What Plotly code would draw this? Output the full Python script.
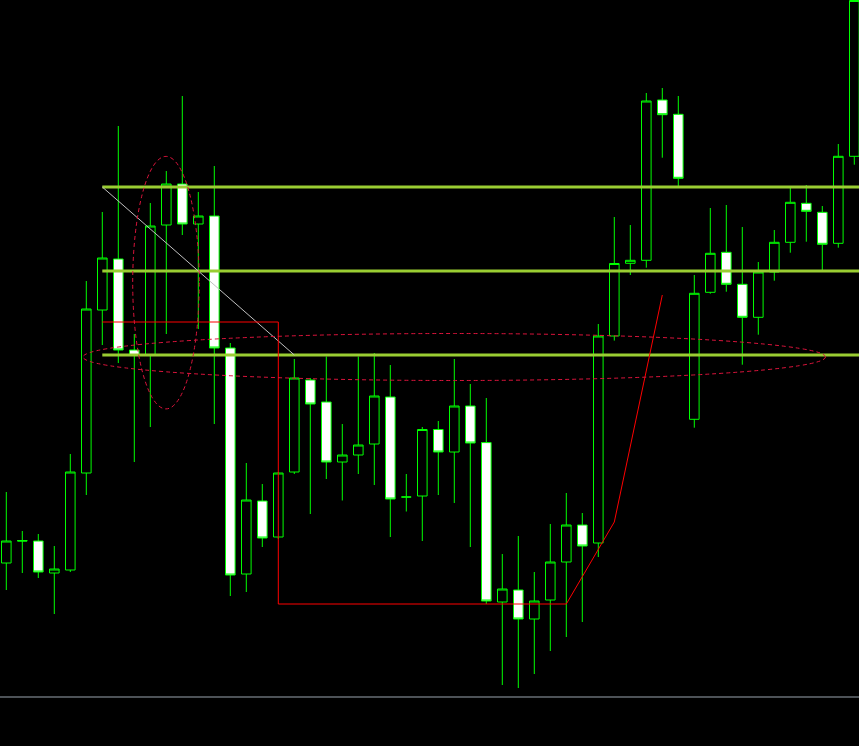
import plotly.graph_objects as go

# ---- data (price units, higher = up) ----
bars = list(range(54))
opens = [183, 205.5, 205, 173, 176, 273, 436, 487, 396, 390.5,
         521, 562, 522, 530, 398, 172, 245, 209, 274, 366,
         344, 284, 291, 302, 349, 249, 250, 316.5, 294, 340,
         303.4, 144, 156, 127, 146, 184, 221, 203, 410, 482.7,
         485.7, 646, 631.7, 326.7, 453.7, 493.7, 461.7, 428.7, 474, 503.7,
         542.7, 533.7, 502.7, 589.7]
highs = [254, 215, 212, 200, 292, 465, 534, 620, 412, 543,
         575, 650, 554, 580, 403, 283, 262, 274, 387, 368,
         389.5, 322, 389.5, 393, 381, 272, 319, 325, 387, 362,
         348, 192, 210, 174, 222, 253, 233, 422, 529, 521,
         653, 658, 650, 471, 538, 541, 519, 484, 516, 559,
         561, 540, 602, 745.5]
lows = [156, 173, 168, 132, 174, 251, 401, 383, 284, 319,
        412, 511, 417, 322, 150, 154, 199, 207, 272, 232,
        267, 245.5, 272, 261, 209, 234.5, 205, 251, 243, 199,
        142, 61, 58, 72, 95, 109, 124, 189, 405.4, 471,
        478.3, 588.3, 560, 318.3, 452.3, 454.3, 381.3, 411.3, 465.3, 493.3,
        504.3, 474, 498.3, 581.3]
closes = [205, 205, 174, 177, 274, 437, 488, 396, 390.5, 520,
          562, 522, 530, 398, 171, 246, 208, 273, 368, 342,
          284, 291, 301, 350, 247, 249, 316.5, 294, 340, 303,
          145, 157, 127, 145, 184, 221, 200, 410, 482.5, 485.7,
          645, 631.3, 567.7, 452.7, 492.7, 461.7, 428.7, 474, 503.7, 543.7,
          534.7, 501.7, 589.7, 745.5]

# support / resistance levels and their start bar
levels = [559, 475, 391]
level_start_bar = 6

# diagonal trend line (bar, price)
trend_bars = [6, 18]
trend_prices = [559, 391]

# red zigzag path (bar, price)
zigzag_bars = [6, 17, 17, 35, 38, 41]
zigzag_prices = [424, 424, 142, 142, 224, 451]

# dashed ellipses: (bar0, bar1, price0, price1)
ellipse_v = [7.9, 12.06, 337.1, 589.6]
ellipse_h = [4.8, 51.2, 365.5, 412.5]

# bottom separator level
separator_price = 49

fig = go.Figure()
fig.add_trace(go.Candlestick(
    x=bars, open=opens, high=highs, low=lows, close=closes,
    increasing=dict(line=dict(color="#00ff00", width=1), fillcolor="#000000"),
    decreasing=dict(line=dict(color="#00ff00", width=1), fillcolor="#ffffff"),
    whiskerwidth=0, showlegend=False, hoverinfo="skip",
))

shapes = []
x_end = 54
for lv in levels:
    shapes.append(dict(type="line", xref="x", yref="y", x0=level_start_bar, x1=x_end,
                       y0=lv, y1=lv, line=dict(color="#9acd32", width=3), layer="above"))
shapes.append(dict(type="line", xref="x", yref="y", x0=trend_bars[0], x1=trend_bars[1],
                   y0=trend_prices[0], y1=trend_prices[1],
                   line=dict(color="#c0c0c0", width=1), layer="above"))
path = "M " + " L ".join(f"{b},{p}" for b, p in zip(zigzag_bars, zigzag_prices))
shapes.append(dict(type="path", xref="x", yref="y", path=path,
                   line=dict(color="#ff0000", width=1), layer="above"))
for e in (ellipse_v, ellipse_h):
    shapes.append(dict(type="circle", xref="x", yref="y", x0=e[0], x1=e[1], y0=e[2], y1=e[3],
                       line=dict(color="#dc143c", width=1, dash="4px,3px"), layer="above"))
shapes.append(dict(type="line", xref="paper", yref="y", x0=0, x1=1,
                   y0=separator_price, y1=separator_price,
                   line=dict(color="#9aa4ae", width=1), layer="above"))

px_per_bar = 16
first_center_px = 6.3
W, H = 859, 746
x0 = -first_center_px / px_per_bar
x1 = x0 + W / px_per_bar

fig.update_layout(
    width=W, height=H, margin=dict(l=0, r=0, t=0, b=0),
    paper_bgcolor="#000000", plot_bgcolor="#000000",
    xaxis=dict(range=[x0, x1], visible=False, rangeslider=dict(visible=False), fixedrange=True),
    yaxis=dict(range=[0, H], visible=False, fixedrange=True),
    shapes=shapes, boxgap=0.4, boxgroupgap=0, showlegend=False,
)

fig.write_html("out.html", config={"displayModeBar": False},
               post_script="document.body.style.margin='0';document.body.style.padding='0';document.body.style.background='#000';document.body.style.overflow='hidden';")
